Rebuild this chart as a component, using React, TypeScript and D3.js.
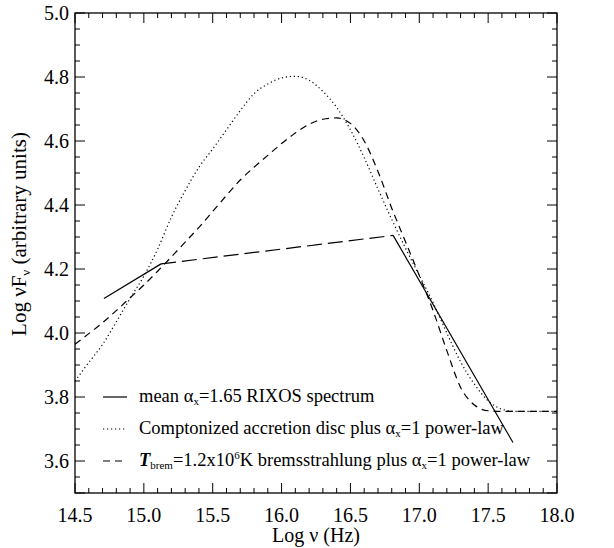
import React from "react";
import * as d3 from "d3";

// ---- data ----
const compLogNu = [14.5, 14.6, 14.7, 14.8, 14.9, 15.0, 15.1, 15.2, 15.3, 15.4, 15.5, 15.6, 15.7, 15.8, 15.9, 16.0, 16.1, 16.2, 16.3, 16.4, 16.5, 16.6, 16.7, 16.8, 16.9, 17.0, 17.1, 17.2, 17.3, 17.4, 17.5, 17.6, 17.7, 17.8, 17.9, 18.0];
const compFlux = [3.85, 3.908, 3.964, 4.035, 4.108, 4.178, 4.262, 4.362, 4.445, 4.518, 4.575, 4.635, 4.695, 4.748, 4.778, 4.797, 4.802, 4.79, 4.755, 4.705, 4.635, 4.548, 4.45, 4.355, 4.265, 4.18, 4.095, 4.0, 3.91, 3.84, 3.788, 3.762, 3.755, 3.755, 3.755, 3.755];

const bremLogNu = [14.5, 14.6, 14.7, 14.8, 14.9, 15.0, 15.1, 15.2, 15.3, 15.4, 15.5, 15.6, 15.7, 15.8, 15.9, 16.0, 16.1, 16.2, 16.3, 16.4, 16.5, 16.6, 16.7, 16.8, 16.9, 17.0, 17.1, 17.2, 17.3, 17.4, 17.5, 17.6, 17.7, 17.8, 17.9, 18.0];
const bremFlux = [3.965, 3.998, 4.032, 4.07, 4.11, 4.15, 4.193, 4.238, 4.284, 4.33, 4.38, 4.43, 4.478, 4.518, 4.555, 4.592, 4.625, 4.652, 4.668, 4.672, 4.655, 4.6, 4.505, 4.39, 4.285, 4.18, 4.07, 3.945, 3.83, 3.775, 3.757, 3.755, 3.755, 3.755, 3.755, 3.755];

const meanOptLogNu = [14.71, 15.125];
const meanOptFlux = [4.108, 4.216];
const meanGapLogNu = [15.125, 16.81];
const meanGapFlux = [4.216, 4.305];
const meanXrayLogNu = [16.81, 17.68];
const meanXrayFlux = [4.305, 3.658];

const xMajorTicks = [14.5, 15.0, 15.5, 16.0, 16.5, 17.0, 17.5, 18.0];
const yMajorTicks = [3.6, 3.8, 4.0, 4.2, 4.4, 4.6, 4.8, 5.0];
const legendLevels = [3.8, 3.7, 3.6];

// ---- layout ----
const W = 614;
const H = 548;
const L = 75, R = 557, T = 13, B = 493;
const FONT = "Liberation Serif, DejaVu Serif, serif";

const x = d3.scaleLinear().domain([14.5, 18.0]).range([L, R]);
const y = d3.scaleLinear().domain([3.5, 5.0]).range([B, T]);

const xMinor = d3.range(0, 36).map((i) => 14.5 + i * 0.1);
const yMinor = d3.range(0, 31).map((i) => 3.5 + i * 0.05);

function mkLine(xs: number[], ys: number[], curve: d3.CurveFactory = d3.curveMonotoneX) {
  const pts: [number, number][] = xs.map((v, i) => [v, ys[i]]);
  return d3
    .line<[number, number]>()
    .x((d) => x(d[0]))
    .y((d) => y(d[1]))
    .curve(curve)(pts) as string;
}

const txt: React.CSSProperties = { fontFamily: FONT };

export default function App() {
  const isMajorX = (v: number) => xMajorTicks.some((m) => Math.abs(m - v) < 1e-6);
  const isMajorY = (v: number) => yMajorTicks.some((m) => Math.abs(m - v) < 1e-6) || Math.abs(v - 3.5) < 1e-6;
  const stroke = "#000";
  const sw = 1.2;
  const lf = 18.5;

  return (
    <svg width={W} height={H} style={{ position: "absolute", left: 0, top: 0, background: "#fff" }}>
      <rect x={0} y={0} width={W} height={H} fill="#fff" />
      <rect x={L} y={T} width={R - L} height={B - T} fill="none" stroke={stroke} strokeWidth={1.3} />

      {xMinor.map((v, i) => {
        const len = isMajorX(v) ? 10 : 5;
        const px = x(v);
        return (
          <g key={"xt" + i}>
            <line x1={px} x2={px} y1={B} y2={B - len} stroke={stroke} strokeWidth={1} />
            <line x1={px} x2={px} y1={T} y2={T + len} stroke={stroke} strokeWidth={1} />
          </g>
        );
      })}
      {yMinor.map((v, i) => {
        const len = isMajorY(v) ? 10 : 5;
        const py = y(v);
        return (
          <g key={"yt" + i}>
            <line x1={L} x2={L + len} y1={py} y2={py} stroke={stroke} strokeWidth={1} />
            <line x1={R} x2={R - len} y1={py} y2={py} stroke={stroke} strokeWidth={1} />
          </g>
        );
      })}

      {xMajorTicks.map((v) => (
        <text key={"xl" + v} x={x(v)} y={522} fontSize={20} textAnchor="middle" style={txt}>
          {v.toFixed(1)}
        </text>
      ))}
      {yMajorTicks.map((v) => (
        <text key={"yl" + v} x={69} y={y(v) + 7} fontSize={20} textAnchor="end" style={txt}>
          {v.toFixed(1)}
        </text>
      ))}

      <text x={316} y={542} fontSize={20} textAnchor="middle" style={txt}>
        Log ν (Hz)
      </text>
      <text transform="translate(26, 234) rotate(-90)" fontSize={21} textAnchor="middle" style={txt}>
        Log νF<tspan fontSize={13} dy={4}>ν</tspan>
        <tspan dy={-4}> (arbitrary units)</tspan>
      </text>

      <path d={mkLine(compLogNu, compFlux)} fill="none" stroke={stroke} strokeWidth={1.2} strokeDasharray="1.2,2.8" />
      <path d={mkLine(bremLogNu, bremFlux)} fill="none" stroke={stroke} strokeWidth={sw} strokeDasharray="7,5" />
      <path d={mkLine(meanOptLogNu, meanOptFlux, d3.curveLinear)} fill="none" stroke={stroke} strokeWidth={sw} />
      <path d={mkLine(meanGapLogNu, meanGapFlux, d3.curveLinear)} fill="none" stroke={stroke} strokeWidth={sw} strokeDasharray="15,6" />
      <path d={mkLine(meanXrayLogNu, meanXrayFlux, d3.curveLinear)} fill="none" stroke={stroke} strokeWidth={sw} />

      <line x1={103} x2={127} y1={y(legendLevels[0])} y2={y(legendLevels[0])} stroke={stroke} strokeWidth={sw} />
      <line x1={103} x2={127} y1={y(legendLevels[1])} y2={y(legendLevels[1])} stroke={stroke} strokeWidth={1.2} strokeDasharray="1.2,2.8" />
      <line x1={103} x2={127} y1={y(legendLevels[2])} y2={y(legendLevels[2])} stroke={stroke} strokeWidth={sw} strokeDasharray="7,5" />

      <text x={139} y={y(legendLevels[0]) + 5} fontSize={lf} style={txt}>
        mean α<tspan fontSize={11} dy={3}>x</tspan>
        <tspan dy={-3}>=1.65 RIXOS spectrum</tspan>
      </text>
      <text x={139} y={y(legendLevels[1]) + 5} fontSize={lf} style={txt}>
        Comptonized accretion disc plus α<tspan fontSize={11} dy={3}>x</tspan>
        <tspan dy={-3}>=1 power-law</tspan>
      </text>
      <text x={139} y={y(legendLevels[2]) + 5} fontSize={lf} style={txt}>
        <tspan fontWeight="bold" fontStyle="italic">T</tspan>
        <tspan fontSize={11} dy={3}>brem</tspan>
        <tspan dy={-3}>=1.2x10</tspan>
        <tspan fontSize={11} dy={-7}>6</tspan>
        <tspan dy={7}>K bremsstrahlung plus α</tspan>
        <tspan fontSize={11} dy={3}>x</tspan>
        <tspan dy={-3}>=1 power-law</tspan>
      </text>
    </svg>
  );
}
